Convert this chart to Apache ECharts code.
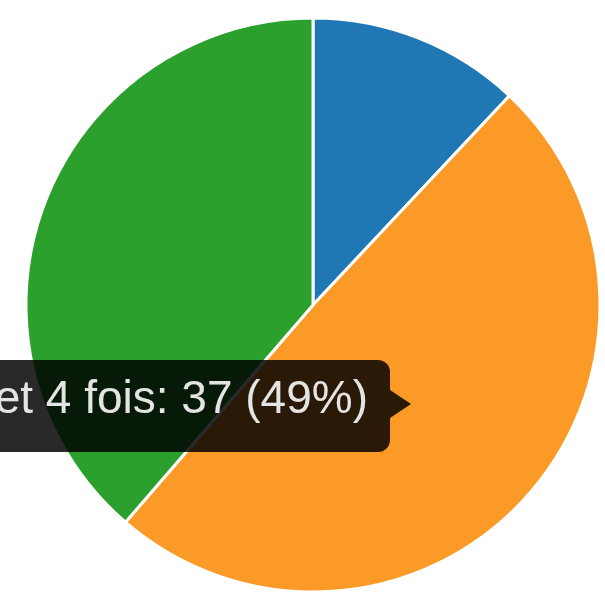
<!DOCTYPE html>
<html>
<head>
<meta charset="utf-8">
<script src="https://cdn.jsdelivr.net/npm/echarts@6/dist/echarts.min.js"></script>
<style>
html,body{margin:0;padding:0;background:#fff;}
#chart{width:605px;height:595px;}
</style>
</head>
<body>
<div id="chart"></div>
<script>
// Data (clockwise from 12 o'clock)
const categories = ['Moins de 2 fois', 'et 4 fois', 'Plus de 4 fois'];
const values = [9, 37, 29];
const colors = ['#1f77b4', '#fb9a26', '#2ca02c'];
const tooltipIndex = 1;

const total = values.reduce((a, b) => a + b, 0);
const pct = Math.round(values[tooltipIndex] / total * 100);
const tipText = categories[tooltipIndex] + ': ' + values[tooltipIndex] + ' (' + pct + '%)';

const chart = echarts.init(document.getElementById('chart'), null, {renderer: 'canvas'});
chart.setOption({
  animation: false,
  backgroundColor: '#ffffff',
  series: [{
    type: 'pie',
    z: 1,
    center: [313, 305],
    radius: 287,
    startAngle: 90,
    clockwise: true,
    label: {show: false},
    labelLine: {show: false},
    itemStyle: {borderColor: '#ffffff', borderWidth: 3},
    emphasis: {disabled: true},
    data: categories.map((c, i) => ({name: c, value: values[i], itemStyle: {color: colors[i]}}))
  }],
  graphic: {
    elements: [
      {type: 'rect', z: 100, zlevel: 1, shape: {x: -20, y: 360, width: 410, height: 92, r: 12},
       style: {fill: 'rgba(0,0,0,0.84)'}},
      {type: 'polygon', z: 100, zlevel: 1, shape: {points: [[390, 390], [411, 404], [390, 418]]},
       style: {fill: 'rgba(0,0,0,0.84)'}},
      {type: 'text', z: 101, zlevel: 1, x: 368, y: 400,
       style: {text: tipText, align: 'right', verticalAlign: 'middle',
       font: '46px "Liberation Sans", Arial, sans-serif', fill: '#e4e4e4'}}
    ]
  }
});
</script>
</body>
</html>
